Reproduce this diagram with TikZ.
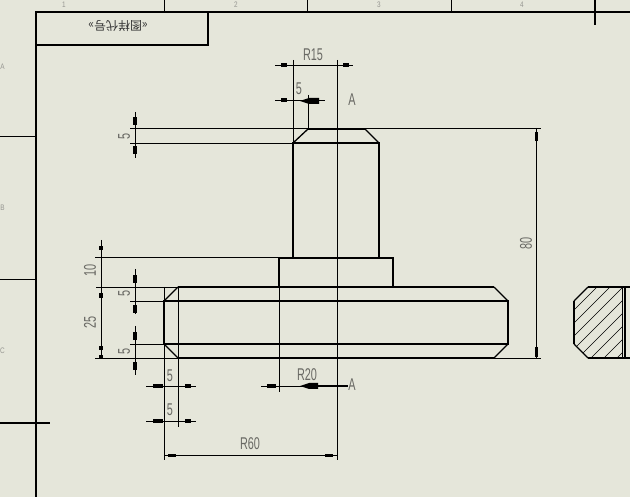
\documentclass[tikz,border=0pt]{standalone}
\usepackage{fontspec}
\setmainfont{Liberation Sans}
\newfontfamily\cjkfont{Noto Sans CJK SC}
\usepackage{tikz}
\definecolor{sheetbg}{RGB}{229, 230, 218}
\definecolor{dimtext}{RGB}{105, 105, 100}
\definecolor{marktext}{RGB}{150, 150, 145}
\tikzset{
  frameline/.style={line width=2.2pt, black},
  partline/.style={line width=2pt, black},
  chamferline/.style={line width=1.3pt, black},
  thinline/.style={line width=0.9pt, black},
  hatchline/.style={line width=0.7pt, black},
  dimlabel/.style={font=\fontsize{17}{17}\selectfont, text=dimtext, inner sep=0pt, xscale=0.64},
  marklabel/.style={font=\fontsize{8}{8}\selectfont, text=marktext, inner sep=0pt, xscale=0.8}
}
% one arrow block on a dimension line: start, direction, length
\newcommand{\dimtick}[3]{\fill[black] (#1) ++(#2+90:1.8) -- ++(#2:#3) -- ++(#2-90:3.6) -- ++(#2+180:#3) -- cycle;}
\begin{document}
\begin{tikzpicture}[x=1pt, y=-1pt]
  \useasboundingbox (0,0) rectangle (630,497);
  \fill[sheetbg] (0,0) rectangle (630,497);

  % Sheet frame
  \draw[thinline] (164,0) -- (164,12);
  \draw[thinline] (307,0) -- (307,12);
  \draw[thinline] (451,0) -- (451,12);
  \draw[thinline] (0,136) -- (36,136);
  \draw[thinline] (0,279) -- (36,279);
  \draw[frameline] (595,0) -- (595,25);
  \draw[frameline] (0,423) -- (50,423);
  \draw[frameline] (630,12) -- (36,12) -- (36,497);
  \draw[frameline] (36,45) -- (208,45) -- (208,12);
  \node[font=\cjkfont\fontsize{12}{12}\selectfont, text=black!80, inner sep=0pt, rotate=180] (titlecode) at (118,26) {«图样代号»};

  \node[marklabel] (zone1) at (64,5) {1};
  \node[marklabel] (zone2) at (236,5) {2};
  \node[marklabel] (zone3) at (379,5) {3};
  \node[marklabel] (zone4) at (522,5) {4};
  \node[marklabel] (zoneA) at (2.5,67) {A};
  \node[marklabel] (zoneB) at (2.5,208) {B};
  \node[marklabel] (zoneC) at (2.5,351) {C};

  % Extension lines
  \draw[thinline] (337,60) -- (337,460);
  \draw[thinline] (293,60) -- (293,143);
  \draw[thinline] (308,95) -- (308,129);
  \draw[thinline] (279,258) -- (279,392);
  \draw[thinline] (164,287) -- (164,460);
  \draw[thinline] (178,287) -- (178,427);
  \draw[thinline] (130,128) -- (541,128);
  \draw[thinline] (130,143) -- (293,143);
  \draw[thinline] (95,257) -- (279,257);
  \draw[thinline] (96,287) -- (178,287);
  \draw[thinline] (130,301) -- (164,301);
  \draw[thinline] (130,344) -- (164,344);
  \draw[thinline] (95,358) -- (541,358);

  % Front view
  \draw[partline] (293,258) -- (293,143) -- (379,143) -- (379,258);
  \draw[partline] (308,129) -- (365,129);
  \draw[chamferline] (293,143) -- (308,129);
  \draw[chamferline] (365,129) -- (379,143);
  \draw[partline] (279,287) -- (279,258) -- (393,258) -- (393,287);
  \draw[partline] (178,287) -- (494,287);
  \draw[partline] (178,358) -- (494,358);
  \draw[partline] (164,301) -- (508,301) -- (508,344) -- (164,344) -- cycle;
  \draw[chamferline] (164,301) -- (178,287);
  \draw[chamferline] (164,344) -- (178,358);
  \draw[chamferline] (494,287) -- (508,301);
  \draw[chamferline] (508,344) -- (494,358);

  % Section at right
  \begin{scope}
    \clip (622,287) -- (588,287) -- (574,301) -- (574,344) -- (588,358) -- (622,358) -- cycle;
    \foreach \hatchsum in {858,871,...,1000} {
      \draw[hatchline] (\hatchsum-372,372) -- (\hatchsum-272,272);
    }
  \end{scope}
  \draw[partline] (630,287) -- (588,287);
  \draw[partline] (574,301) -- (574,344);
  \draw[partline] (588,358) -- (630,358);
  \draw[chamferline] (588,287) -- (574,301);
  \draw[chamferline] (574,344) -- (588,358);
  \draw[hatchline] (622,287) -- (622,358);
  \draw[partline] (624.5,287) -- (624.5,358);

  % Dimension lines
  \draw[thinline] (275,65) -- (353,65);
  \draw[thinline] (275,100) -- (325,100);
  \draw[thinline] (135,112) -- (135,158);
  \draw[thinline] (536.5,128) -- (536.5,358);
  \draw[thinline] (101,240) -- (101,358);
  \draw[thinline] (135,269) -- (135,314);
  \draw[thinline] (135,326) -- (135,375);
  \draw[thinline] (146,386) -- (196,386);
  \draw[thinline] (146,421) -- (196,421);
  \draw[thinline] (164,455.5) -- (337,455.5);
  \draw[thinline] (261,386) -- (337,386);

  \dimtick{281,65}{0}{6} \dimtick{349,65}{180}{6}
  \dimtick{281,100}{0}{6}
  \fill[black] (300,101) -- (309,98) -- (319,98) -- (319,104) -- (309,104) -- cycle;
  \dimtick{135,117}{90}{8} \dimtick{135,154}{-90}{8}
  \dimtick{536.5,132}{90}{9} \dimtick{536.5,357}{-90}{10}
  \dimtick{101,246}{90}{4} \dimtick{101,298}{-90}{5}
  \dimtick{101,346}{90}{4} \dimtick{101,358}{-90}{3}
  \dimtick{135,275}{90}{8} \dimtick{135,313}{-90}{8}
  \dimtick{135,332}{90}{8} \dimtick{135,370}{-90}{8}
  \dimtick{153,386}{0}{10} \dimtick{191,386}{180}{6}
  \dimtick{153,421}{0}{10} \dimtick{191,421}{180}{6}
  \dimtick{168,455.5}{0}{8} \dimtick{333,455.5}{180}{8}
  \dimtick{267,386}{0}{9}
  \fill[black] (300,386) -- (309,383) -- (318,383) -- (318,389) -- (309,389) -- cycle;
  \draw[line width=1.6pt] (318,386) -- (348,386);

  % Dimension texts
  \node[dimlabel] (dimr15) at (313,55) {R15};
  \node[dimlabel] (dimfiveb) at (299,88.5) {5};
  \node[dimlabel] (cutA) at (352,100) {A};
  \node[rotate=90, dimlabel] (dimfivea) at (124,136) {5};
  \node[rotate=90, dimlabel] (dimeighty) at (526,243) {80};
  \node[rotate=90, dimlabel] (dimten) at (90,270) {10};
  \node[rotate=90, dimlabel] (dimtwentyfive) at (90,322) {25};
  \node[rotate=90, dimlabel] (dimfivec) at (124,293) {5};
  \node[rotate=90, dimlabel] (dimfived) at (124,351) {5};
  \node[dimlabel] (dimfivee) at (170,376) {5};
  \node[dimlabel] (dimfivef) at (170,410) {5};
  \node[dimlabel] (dimr20) at (307,375) {R20};
  \node[dimlabel] (cutB) at (352,385) {A};
  \node[dimlabel] (dimr60) at (250,444) {R60};
\end{tikzpicture}
\end{document}
